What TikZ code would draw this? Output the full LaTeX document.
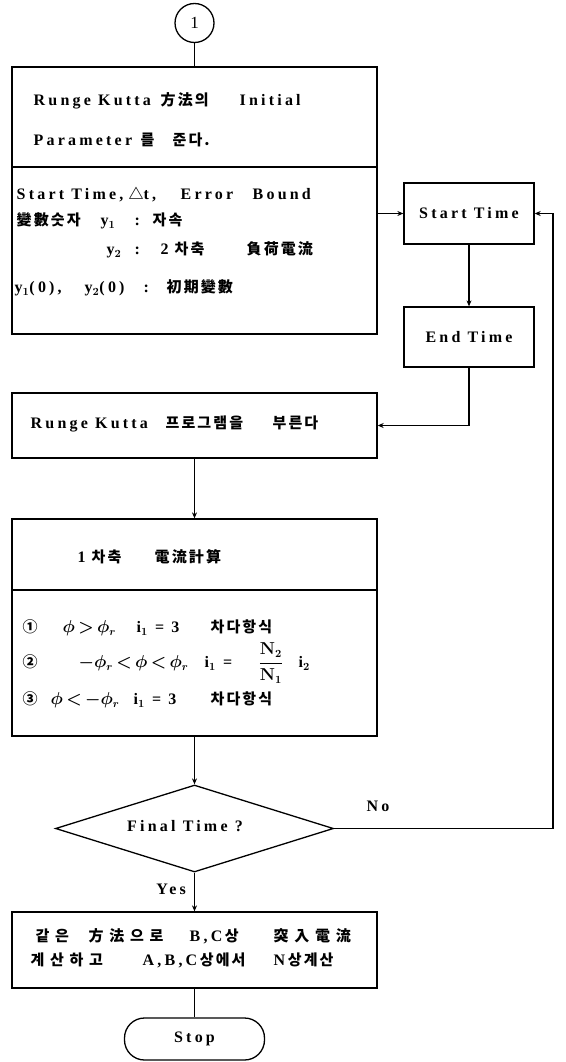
\documentclass[tikz,border=0pt]{standalone}
\usepackage{fontspec}
\setmainfont{Liberation Serif}[LetterSpace=20]
\newfontfamily\kofont{Noto Sans CJK KR}[LetterSpace=14]
\newfontfamily\kowfont{Noto Sans CJK KR}[LetterSpace=38]
\newcommand\KO[1]{{\kofont\bfseries\fontsize{15}{17}\selectfont #1}}
\newcommand\KW[1]{{\kowfont\bfseries\fontsize{15}{17}\selectfont #1}}
\newcommand\PA[2]{\rlap{\hspace*{#1pt}#2}}
\usetikzlibrary{shapes.geometric,arrows.meta}
\tikzset{
  box/.style={draw, line width=1.3pt, rectangle, inner sep=0pt},
  txt/.style={anchor=west, inner sep=0pt, font=\bfseries\boldmath\fontsize{16}{18}\selectfont},
  ctxt/.style={inner sep=0pt, font=\bfseries\boldmath\fontsize{16}{18}\selectfont},
  ln/.style={line width=1.2pt},
  arr/.style={line width=1.2pt, -{Stealth[length=6pt,width=5pt]}}
}
\begin{document}
\begin{tikzpicture}[x=1pt,y=-1pt]
\useasboundingbox (0,0) rectangle (565,1062);
% nodes
\node[draw, circle, line width=1.3pt, minimum size=39pt, inner sep=0pt, font=\fontsize{17}{19}\selectfont] (c1) at (194.5,23) {1};
\node[box, minimum width=365pt, minimum height=267pt] (main) at (194.5,200.5) {};
\draw[ln] (12,167) -- (377,167);
\node[box, minimum width=130pt, minimum height=61pt, ctxt] (st) at (469,213.5) {Start Time};
\node[box, minimum width=130pt, minimum height=60pt, ctxt] (et) at (469,337) {End Time};
\node[box, minimum width=365pt, minimum height=65pt] (rk) at (194.5,425.5) {};
\node[box, minimum width=365pt, minimum height=217pt] (calc) at (194.5,627.5) {};
\draw[ln] (12,590) -- (377,590);
\node[draw, diamond, line width=1.3pt, minimum width=278pt, minimum height=87pt, inner sep=0pt] (dec) at (194.5,828.5) {};
\node[box, minimum width=365pt, minimum height=76pt] (fin) at (194.5,950) {};
\node[draw, line width=1.3pt, rectangle, rounded corners=20pt, minimum width=140pt, minimum height=42pt, ctxt] (stop) at (194.5,1039) {Stop};
% texts in the first box
\node[txt] (t1) at (0,101) {\PA{33}{Runge Kutta}\PA{160}{\KO{方法의}}\PA{239}{Initial}};
\node[txt] (t2) at (0,140) {\PA{33}{Parameter}\PA{140}{\KO{를}}\PA{172}{\KO{준다.}}};
\node[txt] (t3) at (0,195) {\PA{16}{Start Time,}\PA{128}{\KO{△}t,}\PA{180}{Error}\PA{252}{Bound}};
\node[txt] (t4) at (0,221) {\PA{16}{\KO{變數숫자}}\PA{100}{y$_1$}\PA{134}{:}\PA{152}{\KO{자속}}};
\node[txt] (t5) at (0,250) {\PA{106}{y$_2$}\PA{134}{:}\PA{160}{2}\PA{174}{\KO{차축}}\PA{246}{\KO{負荷電流}}};
\node[txt] (t6) at (0,288) {\PA{14}{y$_1$(0),}\PA{84}{y$_2$(0)}\PA{143}{:}\PA{166}{\KO{初期變數}}};
% second box
\node[txt] (t7) at (0,424) {\PA{30}{Runge Kutta}\PA{165}{\KO{프로그램을}}\PA{272}{\KO{부른다}}};
% third box
\node[txt] (t8) at (0,557) {\PA{77}{1}\PA{91}{\KO{차축}}\PA{154}{\KO{電流計算}}};
\node[txt] (t9) at (0,628) {\PA{22}{\KO{①}}\PA{62}{$\phi\,{>}\,\phi_r$}\PA{136}{i$_1$ = 3}\PA{210}{\KO{차다항식}}};
\node[txt] (t10) at (0,663) {\PA{22}{\KO{②}}\PA{78}{$-\phi_r\,{<}\,\phi\,{<}\,\phi_r$}\PA{204}{i$_1$ =}\PA{258}{${\displaystyle\frac{\mathbf{N}_2}{\mathbf{N}_1}}$}\PA{298}{i$_2$}};
\node[txt] (t11) at (0,700) {\PA{22}{\KO{③}}\PA{50}{$\phi\,{<}\,{-}\phi_r$}\PA{133}{i$_1$ = 3}\PA{210}{\KO{차다항식}}};
\node[ctxt] (t12) at (185,826) {Final Time ?};
% last box
\node[txt] (t13) at (0,936) {\PA{35}{\KW{같은}}\PA{88}{\KW{方法으로}}\PA{189}{B,C\,\KO{상}}\PA{273}{\KW{突入電流}}};
\node[txt] (t14) at (0,960) {\PA{30}{\KW{계산하고}}\PA{142}{A,B,C\,\KO{상에서}}\PA{273}{N\,\KO{상계산}}};
% connectors
\coordinate (fb) at (553,828.5);
\draw[ln] (c1) -- (main.north);
\draw[arr] (main.east |- st.west) -- (st.west);
\draw[arr] (st) -- (et);
\draw[arr] (et.south) |- (rk.east);
\draw[arr] (rk.south) -- (calc.north);
\draw[arr] (calc.south) -- (dec.north);
\draw[arr] (dec.east) -- (fb) |- (st.east);
\node[ctxt] (no) at (378,806) {No};
\draw[arr] (dec.south) -- (fin.north);
\node[ctxt, anchor=east] (yes) at (186,889) {Yes};
\draw[ln] (fin.south) -- (stop.north);
\end{tikzpicture}
\end{document}
